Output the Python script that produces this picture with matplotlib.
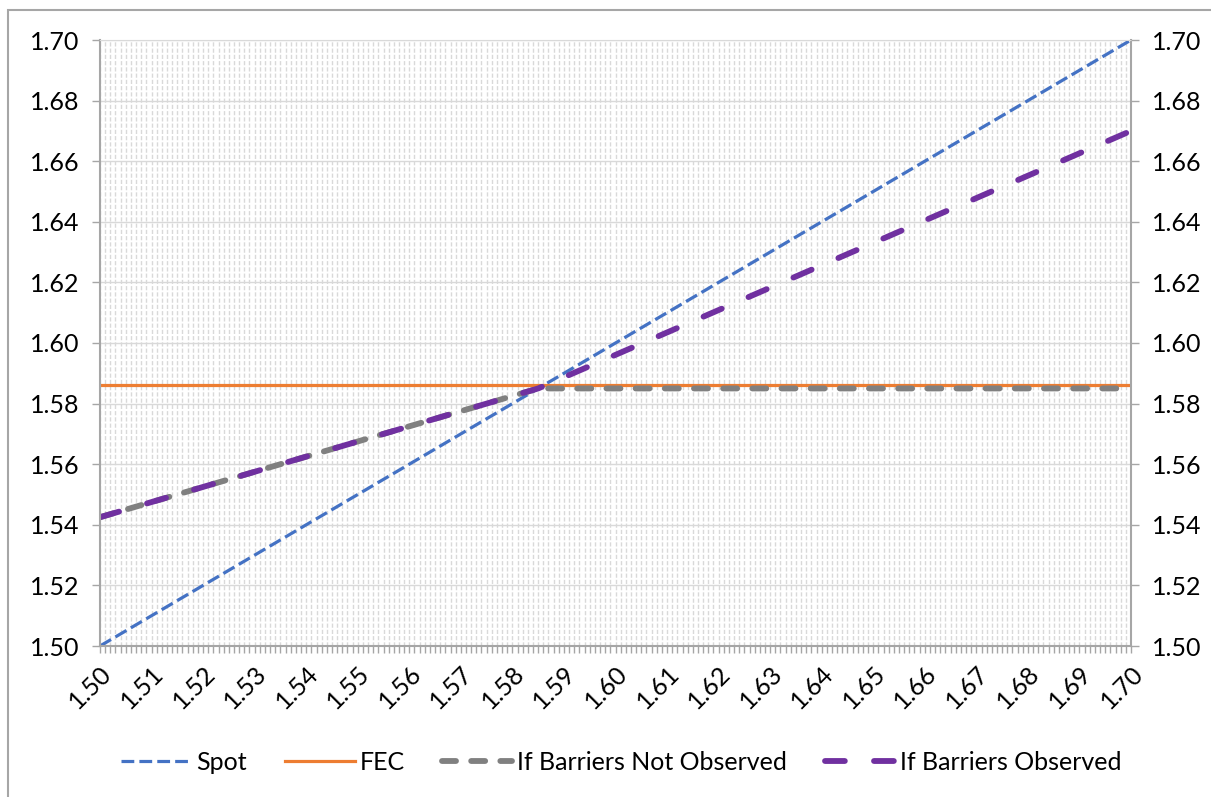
import matplotlib
matplotlib.use("Agg")
import matplotlib.pyplot as plt
import numpy as np
from matplotlib.patches import Rectangle

# Series values (piecewise linear breakpoints)
spot_x = [1.50, 1.70]
spot_y = [1.50, 1.70]
fec_x = [1.50, 1.70]
fec_y = [1.586, 1.586]
not_obs_x = [1.50, 1.585, 1.70]
not_obs_y = [1.5425, 1.585, 1.585]
obs_x = [1.50, 1.585, 1.70]
obs_y = [1.5425, 1.585, 1.670]

x_ticks = [round(1.50 + 0.01 * i, 2) for i in range(21)]
y_ticks = [round(1.50 + 0.02 * i, 2) for i in range(11)]

plt.rcParams['font.family'] = ['Lato', 'DejaVu Sans']
fs = 18

fig = plt.figure(figsize=(12.11, 7.97), dpi=100)
ax = fig.add_axes([100 / 1211, 1 - 646 / 797, 1031 / 1211, 606 / 797])

axis_col = '#a6a6a6'
grid_col = '#d9d9d9'

# grid: dense dashed verticals, solid horizontals at major ticks
ax.set_xticks(x_ticks)
ax.set_xticks(np.round(np.arange(1.50, 1.7005, 0.001), 3), minor=True)
ax.set_yticks(y_ticks)
ax.grid(which='both', axis='x', color=grid_col, lw=1.0, ls=(0, (3, 1.5)))
ax.grid(which='major', axis='y', color=grid_col, lw=1.0)
ax.set_axisbelow(True)

ax.plot(spot_x, spot_y, color='#4472C4', lw=2.3, ls=(0, (4, 1.6)), label='Spot')
ax.plot(fec_x, fec_y, color='#ED7D31', lw=2.3, label='FEC')
ax.plot(not_obs_x, not_obs_y, color='#808080', lw=4.2, ls=(0, (2.4, 2.6)),
        dash_capstyle='round', label='If Barriers Not Observed')
ax.plot(obs_x, obs_y, color='#7030A0', lw=4.2, ls=(0, (3.4, 5.0)),
        dash_capstyle='round', label='If Barriers Observed')

ax.set_xlim(1.50, 1.70)
ax.set_ylim(1.50, 1.70)

ax.set_xticklabels([f'{v:.2f}' for v in x_ticks], rotation=45, ha='right',
                   va='top', rotation_mode='anchor', fontsize=fs)
ax.set_yticklabels([f'{v:.2f}' for v in y_ticks], fontsize=fs)
ax.tick_params(axis='x', which='both', length=5, width=1, color=axis_col, pad=6)
ax.tick_params(axis='y', length=6, width=1, color=axis_col, pad=9)

for side in ['left', 'right', 'bottom']:
    ax.spines[side].set_color(axis_col)
    ax.spines[side].set_linewidth(1.5)
ax.spines['top'].set_color(grid_col)

# secondary value axis on the right
ax2 = ax.twinx()
ax2.set_ylim(1.50, 1.70)
ax2.set_yticks(y_ticks)
ax2.set_yticklabels([f'{v:.2f}' for v in y_ticks], fontsize=fs)
ax2.tick_params(axis='y', length=6, width=1, color=axis_col, pad=9)
for side in ['left', 'right', 'bottom', 'top']:
    ax2.spines[side].set_visible(False)

handles, labels = ax.get_legend_handles_labels()
fig.legend(handles, labels, loc='center', bbox_to_anchor=(0.513, 1 - 762 / 797),
           ncol=4, frameon=False, fontsize=fs, handlelength=2.8,
           handletextpad=0.2, columnspacing=1.5)

# chart area border
fig.add_artist(Rectangle((8 / 1211, -0.05), 1.2, (797 - 10) / 797 + 0.05,
                         transform=fig.transFigure, fill=False,
                         edgecolor=axis_col, lw=1.5, clip_on=False))

fig.savefig('out.png', dpi=100)
